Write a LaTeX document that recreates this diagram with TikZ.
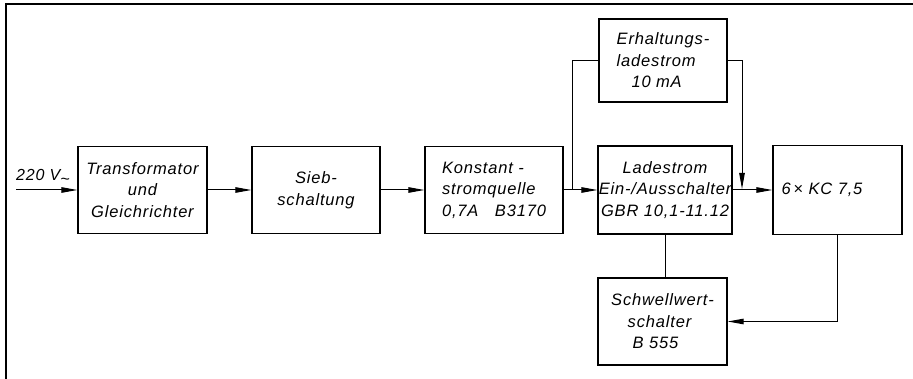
\documentclass[tikz,border=0pt]{standalone}
\usepackage{fontspec}
\setmainfont{Liberation Sans}[LetterSpace=5]
\usetikzlibrary{arrows.meta}
\begin{document}
\begin{tikzpicture}[x=1pt,y=-1pt,
  box/.style={draw, line width=1.3pt, inner sep=0pt, align=center,
    font=\fontsize{16.5}{21.5}\selectfont\itshape},
  conn/.style={line width=1pt},
  arr/.style={conn, -{Triangle[length=16pt,width=5.5pt]}}]
\useasboundingbox (0,0) rectangle (913,379);
% frame
\draw[line width=1.3pt] (913,4) -- (6,4) -- (6,379);
% boxes
\node[box, minimum width=129pt, minimum height=87pt] (tr) at (142.5,190) {Transformator\\und\\Gleichrichter};
\node[box, minimum width=128pt, minimum height=87pt] (si) at (316,190) {Sieb-\\schaltung};
\node[box, minimum width=138pt, minimum height=87pt, align=left] (ko) at (494,190) {Konstant -\\stromquelle\\0,7A\hspace{1em}B3170};
\node[box, minimum width=134pt, minimum height=88pt] (la) at (665,190) {Ladestrom\\Ein-/Ausschalter\\GBR 10,1-11.12};
\node[box, minimum width=128pt, minimum height=83pt, align=left] (er) at (663,60.5) {Erhaltungs-\\ladestrom\\\hspace{0.9em}10 mA};
\node[box, minimum width=129pt, minimum height=89pt, text width=112pt, align=left] (kc) at (837.5,190) {6\,× KC 7,5};
\node[box, minimum width=129pt, minimum height=87pt, align=left] (sw) at (662.5,321.5) {Schwellwert-\\\hspace{1em}schalter\\\hspace{1.3em}B 555};
% input
\node[anchor=base west, inner sep=0pt, font=\fontsize{16}{18}\selectfont\itshape] (v) at (16,181) {220 V\raisebox{-4pt}{\textasciitilde}};
\coordinate (in) at (16,190);
\coordinate (b1) at (572,190);
\coordinate (b2) at (742,190);
% connectors
\draw[arr] (in) -- (tr.west);
\draw[arr] (tr.east) -- (si.west);
\draw[arr] (si.east) -- (ko.west);
\draw[arr] (ko.east) -- (la.west);
\draw[conn] (b1) |- (er.west);
\draw[arr] (er.east) -| ([yshift=1pt]b2);
\draw[arr] (la.east) -- (kc.west);
\draw[arr] (kc.south) |- (sw.east);
\draw[conn] (la.south) -- (la.south |- sw.north);
\end{tikzpicture}
\end{document}
